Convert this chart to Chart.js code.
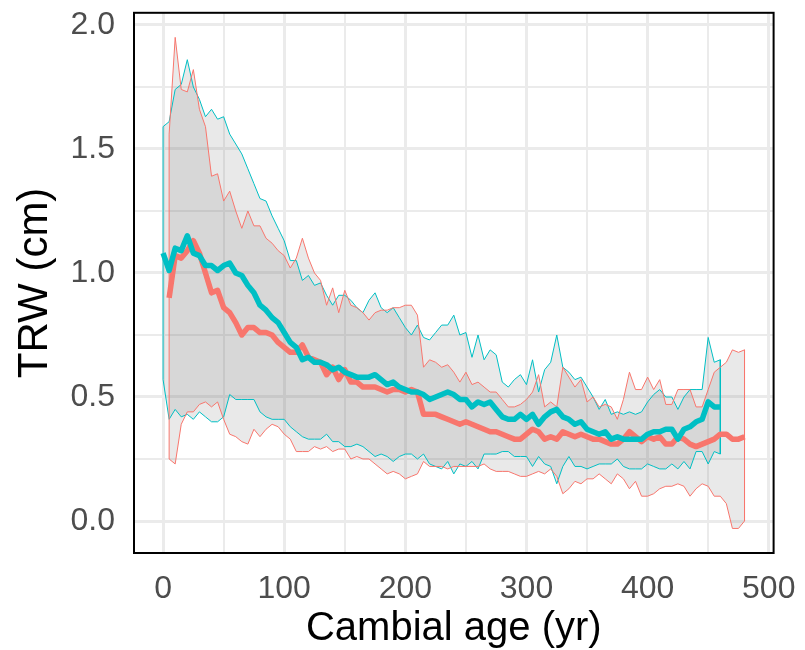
<!DOCTYPE html>
<html>
<head>
<meta charset="utf-8">
<script src="https://cdn.jsdelivr.net/npm/chart.js"></script>
<style>
  body { margin: 0; background: #ffffff; }
  canvas { display: block; }
</style>
</head>
<body>
<canvas id="myChart" width="805" height="650"></canvas>
<script>
// cambial age (yr), every 5 years
const tealAge = [0,5,10,15,20,25,30,35,40,45,50,55,60,65,70,75,80,85,90,95,100,105,110,115,120,125,130,135,140,145,
  150,155,160,165,170,175,180,185,190,195,200,205,210,215,220,225,230,235,240,245,250,255,260,265,270,275,280,285,290,295,
  300,305,310,315,320,325,330,335,340,345,350,355,360,365,370,375,380,385,390,395,400,405,410,415,420,425,430,435,440,445,
  450,455,460];
const redAge = [5,10,15,20,25,30,35,40,45,50,55,60,65,70,75,80,85,90,95,100,105,110,115,120,125,130,135,140,145,150,
  155,160,165,170,175,180,185,190,195,200,205,210,215,220,225,230,235,240,245,250,255,260,265,270,275,280,285,290,295,300,
  305,310,315,320,325,330,335,340,345,350,355,360,365,370,375,380,385,390,395,400,405,410,415,420,425,430,435,440,445,450,
  455,460,465,470,475,480];

// TRW (cm)
const tealUpper = [1.59,1.61,1.74,1.76,1.86,1.75,1.70,1.63,1.66,1.62,
  1.63,1.56,1.52,1.48,1.42,1.36,1.30,1.29,1.23,1.18,
  1.13,1.05,1.05,0.97,0.99,0.95,0.96,0.91,0.87,0.91,
  0.91,0.89,0.86,0.84,0.89,0.92,0.86,0.84,0.86,0.82,
  0.78,0.75,0.79,0.74,0.73,0.76,0.79,0.79,0.83,0.75,
  0.76,0.66,0.75,0.65,0.69,0.67,0.56,0.54,0.57,0.59,
  0.55,0.65,0.52,0.61,0.64,0.75,0.62,0.60,0.57,0.58,
  0.54,0.50,0.45,0.49,0.43,0.44,0.43,0.44,0.43,0.44,
  0.48,0.51,0.53,0.50,0.50,0.45,0.50,0.53,0.53,0.53,
  0.74,0.64,0.65];
const tealMean = [1.08,1.01,1.10,1.09,1.15,1.08,1.07,1.03,1.03,1.01,
  1.03,1.04,1.00,0.99,0.95,0.92,0.87,0.85,0.82,0.80,
  0.76,0.72,0.70,0.65,0.66,0.64,0.64,0.63,0.61,0.62,
  0.60,0.59,0.58,0.58,0.58,0.59,0.57,0.55,0.56,0.54,
  0.53,0.52,0.52,0.51,0.49,0.50,0.51,0.52,0.51,0.49,
  0.49,0.46,0.48,0.47,0.48,0.45,0.42,0.41,0.41,0.43,
  0.41,0.43,0.39,0.42,0.44,0.45,0.42,0.41,0.39,0.40,
  0.37,0.36,0.35,0.36,0.33,0.34,0.33,0.33,0.33,0.33,
  0.35,0.36,0.36,0.37,0.37,0.33,0.37,0.38,0.40,0.41,
  0.48,0.46,0.46];
const tealLower = [0.57,0.41,0.45,0.42,0.43,0.41,0.44,0.42,0.40,0.40,
  0.42,0.51,0.49,0.49,0.49,0.49,0.44,0.42,0.41,0.41,
  0.41,0.38,0.36,0.34,0.33,0.33,0.33,0.35,0.32,0.32,
  0.30,0.30,0.31,0.30,0.28,0.26,0.27,0.26,0.24,0.26,
  0.27,0.27,0.25,0.27,0.23,0.22,0.21,0.24,0.19,0.23,
  0.22,0.24,0.21,0.27,0.27,0.27,0.28,0.28,0.26,0.26,
  0.26,0.22,0.26,0.23,0.22,0.15,0.22,0.26,0.22,0.22,
  0.21,0.22,0.23,0.23,0.23,0.25,0.22,0.21,0.21,0.21,
  0.23,0.22,0.21,0.21,0.23,0.21,0.24,0.21,0.28,0.28,
  0.23,0.28,0.27];

const redUpper = [1.56,1.95,1.74,1.73,1.82,1.66,1.59,1.39,1.40,1.29,
  1.33,1.25,1.18,1.25,1.19,1.19,1.14,1.12,1.09,1.07,
  1.02,1.06,1.14,1.06,1.00,0.97,0.87,0.94,0.84,0.93,
  0.87,0.86,0.84,0.81,0.84,0.85,0.85,0.86,0.86,0.87,
  0.87,0.83,0.62,0.65,0.64,0.62,0.63,0.60,0.56,0.60,
  0.55,0.56,0.54,0.52,0.52,0.49,0.46,0.46,0.47,0.49,
  0.52,0.59,0.46,0.48,0.46,0.62,0.58,0.54,0.57,0.48,
  0.50,0.46,0.47,0.46,0.41,0.49,0.60,0.53,0.53,0.58,
  0.53,0.57,0.47,0.47,0.53,0.53,0.53,0.46,0.46,0.53,
  0.60,0.62,0.64,0.69,0.68,0.69];
const redMean = [0.90,1.07,1.06,1.09,1.13,1.08,1.00,0.92,0.93,0.86,
  0.84,0.80,0.75,0.78,0.78,0.76,0.76,0.75,0.72,0.70,
  0.68,0.68,0.71,0.66,0.65,0.64,0.59,0.62,0.57,0.61,
  0.56,0.56,0.54,0.54,0.54,0.53,0.52,0.53,0.53,0.52,
  0.53,0.52,0.43,0.43,0.43,0.42,0.41,0.40,0.39,0.40,
  0.39,0.38,0.37,0.36,0.36,0.35,0.34,0.33,0.33,0.35,
  0.37,0.36,0.33,0.34,0.33,0.36,0.35,0.34,0.35,0.34,
  0.33,0.33,0.32,0.31,0.31,0.33,0.36,0.34,0.32,0.34,
  0.33,0.34,0.31,0.31,0.34,0.33,0.31,0.30,0.31,0.32,
  0.33,0.35,0.35,0.33,0.33,0.34];
const redLower = [0.25,0.23,0.39,0.44,0.44,0.47,0.48,0.46,0.48,0.41,
  0.35,0.34,0.32,0.31,0.37,0.34,0.37,0.39,0.38,0.35,
  0.33,0.28,0.28,0.28,0.30,0.29,0.30,0.28,0.29,0.29,
  0.25,0.26,0.25,0.25,0.23,0.21,0.19,0.20,0.19,0.17,
  0.18,0.19,0.24,0.22,0.22,0.22,0.21,0.22,0.22,0.22,
  0.22,0.22,0.23,0.21,0.20,0.20,0.20,0.19,0.18,0.18,
  0.19,0.20,0.19,0.21,0.18,0.11,0.13,0.16,0.15,0.17,
  0.17,0.19,0.17,0.15,0.19,0.17,0.13,0.16,0.10,0.10,
  0.11,0.13,0.14,0.14,0.15,0.14,0.10,0.13,0.15,0.14,
  0.10,0.10,0.07,-0.03,-0.03,0.00];

// axis breaks
const xBreaks = [0, 100, 200, 300, 400, 500];
const xMinor = [50, 150, 250, 350, 450];
const yBreaks = [0, 0.5, 1.0, 1.5, 2.0];
const yMinor = [0.25, 0.75, 1.25, 1.75];

const RED = '#F8766D';
const TEAL = '#00BFC4';
const BAND = 'rgba(127,127,127,0.17)';
const FONT = "'Liberation Sans', Arial, Helvetica, sans-serif";

function pts(xs, ys) {
  return xs.map((x, i) => ({x: x, y: ys[i]}));
}

// closed outline of a ribbon: upper forwards, lower backwards
function outline(xs, up, lo) {
  const a = pts(xs, up);
  const b = pts(xs, lo).reverse();
  return a.concat(b, [a[0]]);
}

function isMajor(v, breaks) {
  return breaks.some(b => Math.abs(b - v) < 1e-9);
}

// labels may hang outside the axis box, don't let the layout shrink the panel
function noPad(s) {
  s.paddingTop = 0;
  s.paddingBottom = 0;
  s.paddingLeft = 0;
  s.paddingRight = 0;
}

// black frame around the panel
const panelBorder = {
  id: 'panelBorder',
  afterDatasetsDraw(chart) {
    const a = chart.chartArea;
    const ctx = chart.ctx;
    ctx.save();
    ctx.strokeStyle = '#000000';
    ctx.lineWidth = 2;
    ctx.strokeRect(a.left, a.top, a.right - a.left, a.bottom - a.top);
    ctx.restore();
  }
};

function createChart() {
  const ctx = document.getElementById('myChart').getContext('2d');

  const datasets = [
    { label: 'teal upper', data: pts(tealAge, tealUpper), borderColor: 'transparent', borderWidth: 0,
      backgroundColor: BAND, fill: '+1', order: 10 },
    { label: 'teal lower', data: pts(tealAge, tealLower), borderColor: 'transparent', borderWidth: 0,
      fill: false, order: 11 },
    { label: 'red upper', data: pts(redAge, redUpper), borderColor: 'transparent', borderWidth: 0,
      backgroundColor: BAND, fill: '+1', order: 12 },
    { label: 'red lower', data: pts(redAge, redLower), borderColor: 'transparent', borderWidth: 0,
      fill: false, order: 13 },
    { label: 'teal band', data: outline(tealAge, tealUpper, tealLower), borderColor: TEAL, borderWidth: 1,
      fill: false, order: 3 },
    { label: 'red band', data: outline(redAge, redUpper, redLower), borderColor: RED, borderWidth: 1,
      fill: false, order: 2 },
    { label: 'red mean', data: pts(redAge, redMean), borderColor: RED, borderWidth: 5.5,
      fill: false, order: 1 },
    { label: 'teal mean', data: pts(tealAge, tealMean), borderColor: TEAL, borderWidth: 5.5,
      fill: false, order: 0 }
  ];

  const gridOpts = (breaks) => ({
    color: '#EBEBEB',
    lineWidth: (c) => isMajor(c.tick.value, breaks) ? 3 : 2,
    drawTicks: false
  });

  const options = {
    responsive: false,
    animation: false,
    layout: { padding: { left: 0, right: 31.4, top: 12.8, bottom: 0 } },
    elements: {
      point: { radius: 0, hoverRadius: 0 },
      line: { tension: 0, borderJoinStyle: 'round' }
    },
    plugins: {
      legend: { display: false },
      tooltip: { enabled: false }
    },
    scales: {
      x: {
        type: 'linear',
        min: -24,
        max: 504,
        afterBuildTicks: (s) => { s.ticks = xBreaks.concat(xMinor).sort((a, b) => a - b).map(v => ({value: v})); },
        afterFit: (s) => { s.height = 97; noPad(s); },
        grid: gridOpts(xBreaks),
        border: { display: false },
        ticks: {
          autoSkip: false,
          maxRotation: 0,
          padding: 17,
          color: '#4D4D4D',
          font: { family: FONT, size: 32 },
          callback: (v) => isMajor(v, xBreaks) ? String(v) : ''
        },
        title: {
          display: true,
          text: 'Cambial age (yr)',
          color: '#000000',
          font: { family: FONT, size: 40, lineHeight: 1 },
          padding: { top: 0, bottom: 1 }
        }
      },
      y: {
        type: 'linear',
        min: -0.129,
        max: 2.049,
        afterBuildTicks: (s) => { s.ticks = yBreaks.concat(yMinor).sort((a, b) => a - b).map(v => ({value: v})); },
        afterFit: (s) => { s.width = 134; noPad(s); },
        grid: gridOpts(yBreaks),
        border: { display: false },
        ticks: {
          autoSkip: false,
          padding: 19,
          color: '#4D4D4D',
          font: { family: FONT, size: 32 },
          callback: (v) => isMajor(v, yBreaks) ? v.toFixed(1) : ''
        },
        title: {
          display: true,
          text: 'TRW (cm)',
          color: '#000000',
          font: { family: FONT, size: 42, lineHeight: 1 },
          padding: { top: 14, bottom: 0 }
        }
      }
    }
  };

  new Chart(ctx, {
    type: 'line',
    data: { datasets: datasets },
    options: options,
    plugins: [panelBorder]
  });
}

createChart();
</script>
</body>
</html>
